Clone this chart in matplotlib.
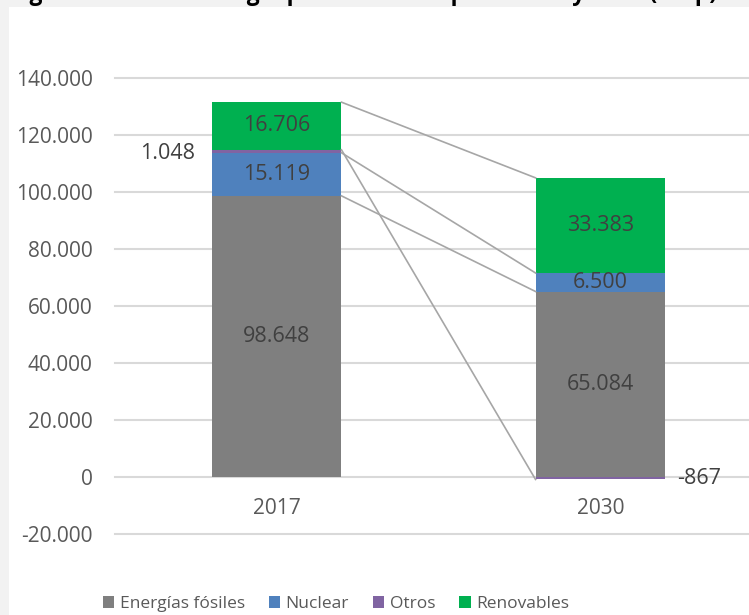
import numpy as np
import matplotlib
matplotlib.use("Agg")
import matplotlib.pyplot as plt
from matplotlib.patches import Patch, Rectangle
from matplotlib.ticker import FuncFormatter

years = ["2017", "2030"]
series = ["Energías fósiles", "Nuclear", "Otros", "Renovables"]
fosiles = [98648, 65084]
nuclear = [15119, 6500]
otros = [1048, -867]
renovables = [16706, 33383]
colors = ["#7f7f7f", "#4f81bd", "#8064a2", "#00b050"]
title = "Figura 3. Mix de energía primaria en España 2017 y 2030 (ktep)"

plt.rcParams["font.family"] = ["Open Sans", "DejaVu Sans"]

W, H = 749, 615
fig = plt.figure(figsize=(W / 100, H / 100), dpi=100)
fig.patch.set_facecolor("#f2f2f2")
fig.add_artist(Rectangle((9 / W, 0), 1, 1 - 7 / H, transform=fig.transFigure,
                         facecolor="white", edgecolor="none", zorder=0))
# title is cut off by the top of the picture, only descenders show
fig.text(10 / W, 1 + 0.5 / H, title, ha="left", va="baseline",
         fontsize=16.5, fontweight="bold", color="black")

ax = fig.add_axes([115 / W, (H - 534) / H, (762 - 115) / W, (534 - 78) / H])
ax.set_facecolor("none")

x = np.arange(len(years))
bw = 0.4
pos_base = np.zeros(len(years))
neg_base = np.zeros(len(years))
ends = []
for name, vals, c in zip(series, [fosiles, nuclear, otros, renovables], colors):
    vals = np.array(vals, dtype=float)
    base = np.where(vals >= 0, pos_base, neg_base)
    ax.bar(x, vals, width=bw, bottom=base, color=c, zorder=2, label=name)
    mids = base + vals / 2
    for i, v in enumerate(vals):
        txt = f"{v:,.0f}".replace(",", ".")
        if abs(v) > 3000:
            ax.text(x[i], mids[i], txt, ha="center", va="center",
                    fontsize=15.5, color="#404040", zorder=4)
        elif i == 0:
            ax.annotate(txt, (x[i] - bw / 2, mids[i]), xytext=(-17, -2),
                        textcoords="offset pixels", ha="right", va="center",
                        fontsize=15.5, color="#404040")
        else:
            ax.annotate(txt, (x[i] + bw / 2, mids[i]), xytext=(12, 0),
                        textcoords="offset pixels", ha="left", va="center",
                        fontsize=15.5, color="#404040")
    ends.append(base + vals)
    pos_base = np.where(vals >= 0, pos_base + vals, pos_base)
    neg_base = np.where(vals < 0, neg_base + vals, neg_base)

# series lines between the two columns
for e in ends:
    ax.plot([x[0] + bw / 2, x[1] - bw / 2], [e[0], e[1]],
            color="#a6a6a6", lw=1.2, zorder=3)

for i, yr in enumerate(years):
    ax.annotate(yr, (x[i], 0), xytext=(0, -31), textcoords="offset pixels",
                ha="center", va="center", fontsize=15, color="#595959")

ax.set_xlim(-0.5, 1.5)
ax.set_ylim(-20000, 140000)
ax.set_yticks(np.arange(-20000, 140001, 20000))
ax.yaxis.set_major_formatter(FuncFormatter(lambda v, p: f"{v:,.0f}".replace(",", ".")))
ax.set_xticks([])
ax.tick_params(axis="y", length=0, pad=16, labelsize=15, colors="#595959")
ax.yaxis.grid(True, color="#d9d9d9", lw=1.5)
ax.set_axisbelow(True)
for l in ax.get_ygridlines():
    l.set_clip_on(False)
for s in ax.spines.values():
    s.set_visible(False)

handles = [Patch(facecolor=c, edgecolor="none") for c in colors]
fig.legend(handles, series, loc="center", bbox_to_anchor=(336 / W, (H - 604) / H),
           ncol=4, frameon=False, fontsize=12.5, labelcolor="#595959",
           handlelength=0.65, handleheight=0.65, handletextpad=0.3,
           columnspacing=1.4, borderpad=0)

fig.savefig("out.png", dpi=100, facecolor=fig.get_facecolor())
